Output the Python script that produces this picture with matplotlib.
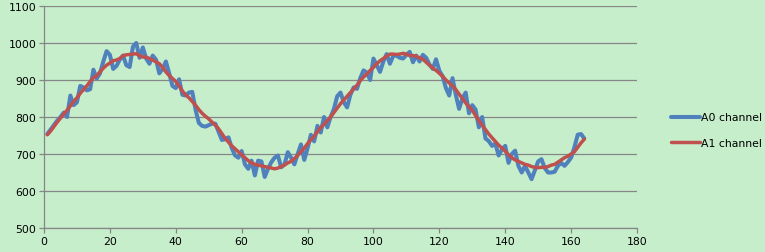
import matplotlib.pyplot as plt

# sample index
x = list(range(1, 165))

a0 = [754, 766, 778, 790, 800, 812, 800, 858, 832, 840,
      884, 880, 872, 875, 928, 904, 918, 950, 978, 968,
      930, 938, 955, 966, 940, 935, 990, 1000, 960, 988,
      958, 944, 966, 955, 918, 930, 950, 918, 884, 878,
      902, 860, 858, 866, 868, 820, 784, 776, 774, 778,
      782, 782, 760, 738, 740, 745, 716, 696, 690, 708,
      672, 660, 682, 642, 682, 680, 638, 660, 678, 690,
      696, 664, 672, 705, 690, 672, 700, 726, 684, 715,
      752, 734, 776, 758, 800, 772, 800, 822, 856, 866,
      840, 826, 860, 880, 876, 905, 926, 920, 900, 958,
      940, 922, 950, 970, 944, 965, 966, 960, 958, 968,
      976, 948, 966, 950, 968, 960, 942, 930, 956, 925,
      910, 878, 858, 905, 860, 822, 850, 866, 810, 832,
      820, 772, 800, 742, 735, 722, 728, 696, 712, 722,
      676, 700, 709, 668, 650, 668, 650, 632, 656, 680,
      686, 662, 650, 650, 652, 668, 676, 668, 678, 690,
      718, 752, 754, 742]

a1 = [752, 762, 774, 786, 797, 808, 818, 830, 842, 852,
      864, 874, 884, 896, 906, 912, 922, 932, 940, 946,
      952, 954, 958, 966, 968, 969, 970, 971, 966, 962,
      962, 958, 954, 949, 944, 934, 922, 912, 904, 896,
      884, 870, 860, 852, 842, 832, 820, 810, 802, 795,
      786, 778, 768, 755, 742, 732, 722, 714, 706, 698,
      690, 682, 676, 672, 670, 668, 666, 664, 662, 660,
      662, 666, 670, 676, 680, 688, 696, 706, 716, 728,
      738, 748, 760, 772, 780, 790, 800, 812, 824, 836,
      846, 856, 866, 876, 886, 898, 908, 916, 926, 934,
      944, 952, 958, 964, 970, 970, 969, 970, 972, 970,
      966, 966, 964, 960, 956, 948, 940, 932, 926, 918,
      910, 900, 892, 884, 874, 862, 850, 838, 828, 818,
      804, 790, 778, 766, 754, 744, 734, 724, 716, 708,
      698, 690, 684, 680, 676, 672, 670, 666, 664, 663,
      664, 664, 666, 670, 672, 678, 684, 690, 694, 700,
      706, 718, 730, 740]

bg = '#C6EECB'
grey = '#868686'

fig = plt.figure(figsize=(7.65, 2.53), dpi=100, facecolor=bg)
ax = fig.add_axes([44/765, 1-229/253, (637-44)/765, (229-7)/253])
ax.set_facecolor(bg)

ax.plot(x, a0, color='#4F81BD', lw=2.9, solid_joinstyle='round', solid_capstyle='round', label='A0 channel')
ax.plot(x, a1, color='#C0504D', lw=2.5, solid_joinstyle='round', solid_capstyle='round', label='A1 channel')

ax.set_xlim(0, 180)
ax.set_ylim(500, 1100)
ax.set_xticks(range(0, 181, 20))
ax.set_yticks(range(500, 1101, 100))
ax.yaxis.grid(True, color=grey, lw=0.9)
ax.set_axisbelow(True)
for s in ['top', 'right']:
    ax.spines[s].set_visible(False)
for s in ['left', 'bottom']:
    ax.spines[s].set_color(grey)
    ax.spines[s].set_linewidth(0.9)
ax.tick_params(colors=grey, labelcolor='black', labelsize=7.8, length=3.5, width=0.9, pad=2)

fig.legend(loc='upper left', bbox_to_anchor=(666/765, 1-108/253), frameon=False,
           fontsize=7.8, handlelength=2.6, handletextpad=0.15, labelspacing=1.4, borderpad=0)

fig.savefig('out.png', dpi=100, facecolor=bg)
